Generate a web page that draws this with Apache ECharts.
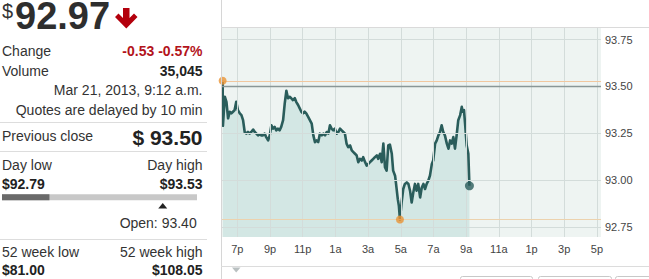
<!DOCTYPE html>
<html><head><meta charset="utf-8">
<script src="https://cdn.jsdelivr.net/npm/echarts@6/dist/echarts.min.js"></script>
<style>html,body{margin:0;padding:0;background:#fff;overflow:hidden}#c{width:649px;height:279px}</style>
</head><body><div id="c"></div>
<script>
// minutes since 6:00 p.m. of the previous day
const times = [6,7,14,20,26,32,38,44,50,56,62,69,75,81,87,93,99,105,111,118,124,130,136,142,148,154,160,166,173,179,185,191,197,203,209,215,221,228,234,240,246,252,258,264,271,276,283,289,295,301,307,313,320,333,339,345,351,357,363,370,376,382,388,394,400,406,412,418,425,431,437,443,449,455,461,467,474,480,486,492,498,504,510,517,522,529,535,541,547,553,559,565,572,577,584,590,596,602,608,614,620,627,632,639,642,649,653,657,663,669,675,682,688,694,700,706,712,718,724,731,737,743,749,755,761,767,774,779,786,792,798,804,810,816,822,829,835,841,847,853,859,865,871,878,884,887,892,896,902,908,912];
const prices = [93.53,93.29,93.445,93.418,93.33,93.365,93.356,93.365,93.374,93.418,93.374,93.356,93.347,93.32,93.257,93.248,93.257,93.248,93.257,93.27,93.257,93.248,93.239,93.244,93.239,93.239,93.248,93.23,93.212,93.239,93.293,93.275,93.284,93.266,93.275,93.266,93.284,93.32,93.41,93.477,93.437,93.445,93.437,93.427,93.437,93.418,93.401,93.383,93.365,93.356,93.365,93.356,93.338,93.302,93.239,93.203,93.212,93.203,93.248,93.239,93.248,93.239,93.257,93.248,93.293,93.275,93.266,93.275,93.248,93.257,93.275,93.266,93.257,93.248,93.195,93.176,93.185,93.159,93.15,93.141,93.132,93.096,93.114,93.105,93.123,93.096,93.078,93.087,93.096,93.105,93.114,93.123,93.132,93.114,93.141,93.096,93.195,93.069,93.051,93.185,93.19,93.141,93.051,93.024,92.988,92.899,92.863,92.79,92.881,92.953,92.98,92.988,92.98,92.944,92.881,92.935,92.98,92.944,92.98,92.908,92.961,92.98,92.953,92.98,92.997,93.024,93.087,93.105,93.195,93.212,93.239,93.257,93.293,93.257,93.239,93.195,93.168,93.212,93.195,93.23,93.168,93.239,93.32,93.347,93.391,93.365,93.374,93.302,93.185,93.141,92.97];
const xTickMinutes = [60,180,300,420,540,660,780,900,1020,1140,1260,1380];
const xTickLabels = ['7p','9p','11p','1a','3a','5a','7a','9a','11a','1p','3p','5p'];
const yTicks = [92.75,93.00,93.25,93.50,93.75];
const lastPrice = 92.97, prevClose = 93.50, dayLow = 92.79, dayHigh = 93.53, openPrice = 93.40;
const change = -0.53, changePct = -0.57, volume = '35,045', stamp = 'Mar 21, 2013, 9:12 a.m.';
const wk52Low = 81.00, wk52High = 108.05;

const F = '"Liberation Sans", Arial, sans-serif';
function T(x, y, text, size, color, align, bold) {
  align = align || 'left';
  return { type: 'text', z: 100, silent: true, style: {
    x: x, y: y, text: text, font: (bold ? 'bold ' : '') + size + 'px ' + F, fill: color,
    align: align, textAlign: align, verticalAlign: 'middle', textVerticalAlign: 'middle' } };
}
function L(x1, y1, x2, y2, color, w) {
  return { type: 'line', z: 100, silent: true, shape: { x1, y1, x2, y2 }, style: { stroke: color, lineWidth: w || 1 } };
}
const barX0 = 2, barX1 = 197;
const barW = barX1 - barX0;
const curX = barX0 + (lastPrice - dayLow) / (dayHigh - dayLow) * barW;
const openX = barX0 + (openPrice - dayLow) / (dayHigh - dayLow) * barW;

const graphic = [
  T(2, 11, '$', 20, '#333'),
  T(15, 16, lastPrice.toFixed(2), 38, '#2e2e2e', 'left', true),
  { type: 'polygon', z: 100, silent: true, shape: { points: [[123,8],[129.5,8],[129.5,18],[134,13.5],[137.5,17],[126.3,28.5],[115,17],[118.5,13.5],[123,18]] }, style: { fill: '#b3000c' } },
  T(2, 50.5, 'Change', 14, '#333'),
  T(202.5, 50.5, change.toFixed(2) + ' ' + changePct.toFixed(2) + '%', 14, '#b3131b', 'right', true),
  T(2, 71, 'Volume', 14, '#333'),
  T(202.5, 71, volume, 14, '#222', 'right', true),
  T(202.5, 89.5, stamp, 14, '#333', 'right'),
  T(202.5, 110, 'Quotes are delayed by 10 min', 14, '#333', 'right'),
  L(0, 122.5, 207, 122.5, '#dddddd'),
  T(2, 135.5, 'Previous close', 14, '#333'),
  T(202.5, 137, '$ ' + prevClose.toFixed(2), 21, '#222', 'right', true),
  L(0, 151.5, 207, 151.5, '#dddddd'),
  T(2, 165, 'Day low', 14, '#333'),
  T(202.5, 165, 'Day high', 14, '#333', 'right'),
  T(2, 183.5, '$' + dayLow.toFixed(2), 14, '#222', 'left', true),
  T(202.5, 183.5, '$' + dayHigh.toFixed(2), 14, '#222', 'right', true),
  { type: 'rect', z: 100, silent: true, shape: { x: barX0, y: 194.3, width: barW, height: 6 }, style: { fill: '#c8c8c8' } },
  { type: 'rect', z: 101, silent: true, shape: { x: barX0, y: 194.3, width: curX - barX0, height: 6 }, style: { fill: '#6a6a6a' } },
  { type: 'polygon', z: 100, silent: true, shape: { points: [[openX - 4.5, 208.5],[openX + 4.5, 208.5],[openX, 203]] }, style: { fill: '#222' } },
  T(196.7, 222.5, 'Open: ' + openPrice.toFixed(2), 14, '#333', 'right'),
  L(0, 239.5, 207, 239.5, '#dddddd'),
  T(2, 251.5, '52 week low', 14, '#333'),
  T(202.5, 251.5, '52 week high', 14, '#333', 'right'),
  T(2, 270, '$' + wk52Low.toFixed(2), 14, '#222', 'left', true),
  T(202.5, 270, '$' + wk52High.toFixed(2), 14, '#222', 'right', true),
  // chart frame
  L(221.5, 0, 221.5, 279, '#d6d6d6'),
  L(221, 27.5, 649, 27.5, '#dadada'),
  L(221, 266.5, 649, 266.5, '#dcdcdc'),
  { type: 'polygon', z: 100, silent: true, shape: { points: [[232,267.5],[240.5,267.5],[236.2,272.5]] }, style: { fill: '#b9c0c1' } },
  { type: 'rect', z: 100, silent: true, shape: { x: 460.5, y: 276.5, width: 72, height: 12, r: 2 }, style: { fill: '#fff', stroke: '#c8c8c8' } },
  { type: 'rect', z: 100, silent: true, shape: { x: 538.5, y: 276.5, width: 73, height: 12, r: 2 }, style: { fill: '#fff', stroke: '#c8c8c8' } },
  { type: 'rect', z: 100, silent: true, shape: { x: 615.5, y: 276.5, width: 45, height: 12, r: 2 }, style: { fill: '#fff', stroke: '#c8c8c8' } }
];

const lineData = times.map((t, i) => [t, prices[i]]);
const lowIdx = prices.indexOf(dayLow);
const highIdx = prices.indexOf(dayHigh);
const lastIdx = prices.length - 1;

const chart = echarts.init(document.getElementById('c'), null, { renderer: 'svg' });
chart.setOption({
  animation: false,
  textStyle: { fontFamily: F },
  graphic: graphic,
  grid: { left: 221, top: 27, width: 380, height: 210, show: true, backgroundColor: '#eef4f2', borderWidth: 0, outerBoundsMode: 'none', containLabel: false },
  xAxis: {
    type: 'value', min: 0, max: 1395, interval: 60,
    axisLine: { show: false }, axisTick: { show: false }, splitLine: { show: false },
    axisLabel: { color: '#444', fontSize: 11, fontFamily: F, margin: 6, showMinLabel: true, showMaxLabel: true,
      formatter: function (v) { const i = xTickMinutes.indexOf(Math.round(v)); return (i >= 0 && Math.abs(v - xTickMinutes[i]) < 0.01) ? xTickLabels[i] : ''; } }
  },
  yAxis: {
    type: 'value', min: 92.697, max: 93.817, position: 'right',
    axisLine: { show: false }, axisTick: { show: false }, splitLine: { show: false }, axisLabel: { show: false }
  },
  series: [
    { type: 'line', name: 'area', data: lineData, z: 1, silent: true, showSymbol: false, symbol: 'none',
      lineStyle: { width: 0, opacity: 0 }, areaStyle: { color: '#d3e7e4', opacity: 1, origin: 'start' } },
    { type: 'line', name: 'grid', data: [], z: 2, silent: true,
      markLine: { silent: true, symbol: ['none', 'none'], animation: false,
        lineStyle: { color: '#d3dcda', width: 1, type: 'solid' },
        label: { show: true, position: 'end', distance: 4, color: '#444', fontSize: 11, fontFamily: F,
          formatter: function (p) { return Number(p.value).toFixed(2); } },
        data: xTickMinutes.map(m => ({ xAxis: m, label: { show: false } }))
          .concat(yTicks.map(v => ({ yAxis: v }))) } },
    { type: 'line', name: 'refs', data: [], z: 3, silent: true,
      markLine: { silent: true, symbol: ['none', 'none'], animation: false, label: { show: false },
        data: [
          { yAxis: prevClose, lineStyle: { color: '#8a9797', width: 1.3, type: 'solid' } },
          { yAxis: dayHigh, lineStyle: { color: '#f1c79f', width: 1, type: 'solid' } },
          { yAxis: dayLow, lineStyle: { color: '#ecd2ae', width: 1, type: 'solid' } }
        ] } },
    { type: 'line', name: 'price', data: lineData, z: 4, silent: true, showSymbol: false, symbol: 'none',
      lineStyle: { color: '#2a5d5b', width: 2.6, join: 'round' } },
    { type: 'scatter', name: 'extremes', z: 5, silent: true, symbolSize: 8,
      itemStyle: { color: '#ea9434' },
      data: [lineData[highIdx], lineData[lowIdx]] },
    { type: 'scatter', name: 'last', z: 5, silent: true, symbolSize: 9,
      itemStyle: { color: '#2a5d5b' },
      data: [lineData[lastIdx]] }
  ]
});
</script>
</body></html>
